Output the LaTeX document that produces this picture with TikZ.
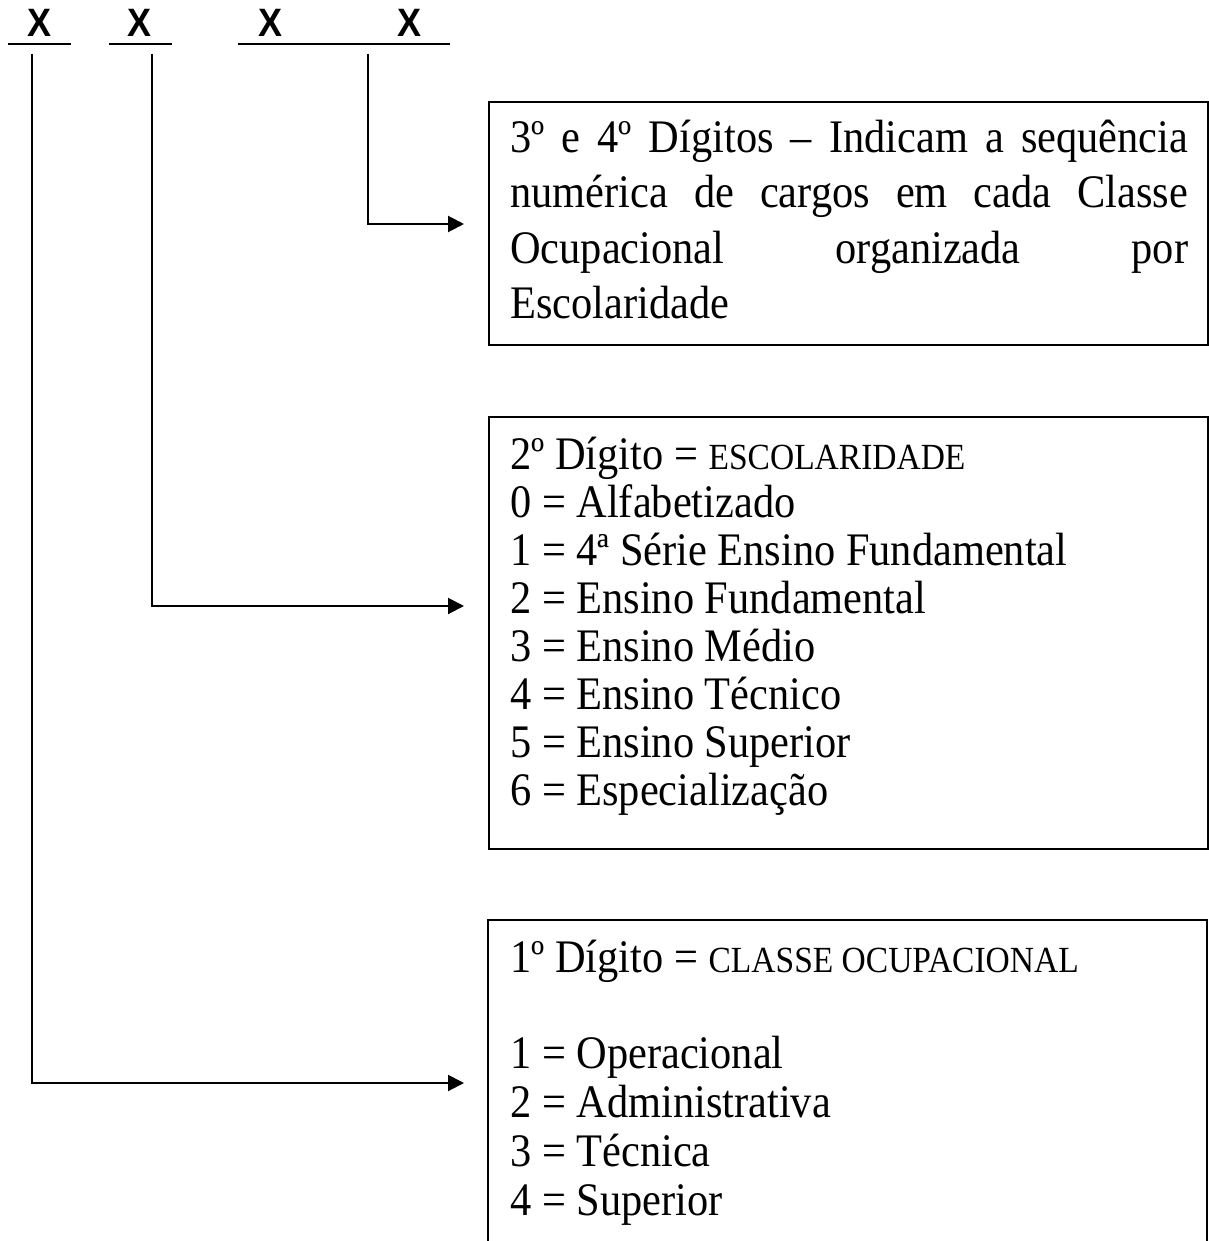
\documentclass[tikz,border=0pt]{standalone}
\usepackage{fontspec}
\setmainfont{Liberation Serif}
\newfontfamily\xfont{Liberation Sans}[BoldFont={Liberation Sans Bold}]
\usetikzlibrary{arrows.meta}
\newcommand\tall[1]{\scalebox{1}[1.1]{#1}}
\newcommand\smc[1]{{\fontsize{33.5}{40}\selectfont #1}}
\begin{document}
\begin{tikzpicture}[x=1pt,y=-1pt,
  conn/.style={line width=2pt},
  arr/.style={conn,-{Triangle[length=16pt,width=16pt]}},
  boxline/.style={line width=2pt},
  uline/.style={line width=2.5pt},
  txt/.style={anchor=base west,inner sep=0pt,font=\fontsize{42.4}{48}\selectfont},
  xl/.style={anchor=base,inner sep=0pt,font=\xfont\bfseries\fontsize{36}{36}\selectfont}]
\useasboundingbox (0,0) rectangle (1208,1241);
% code digits
\node[xl] (x1) at (40,37) {\tall{X}};
\node[xl] (x2) at (140,37) {\tall{X}};
\node[xl] (x3) at (271,37) {\tall{X}};
\node[xl] (x4) at (409,37) {\tall{X}};
\draw[uline] (8,44) -- (71,44);
\draw[uline] (109,44) -- (172,44);
\draw[uline] (238,44) -- (450,44);
% boxes
\node[draw,boxline,minimum width=719pt,minimum height=243pt,anchor=north west,inner sep=0pt] (b1) at (488,101) {};
\node[draw,boxline,minimum width=719pt,minimum height=432pt,anchor=north west,inner sep=0pt] (b2) at (488,416) {};
\coordinate (b3) at (488,920);
\draw[boxline] (488,1260) -- (b3) -- (1207,920) -- (1207,1260);
% connectors
\coordinate (s1) at (32,54);
\coordinate (s2) at (152,54);
\coordinate (s3) at (368,54);
\coordinate (t1) at (464,1083);
\coordinate (t2) at (464,606);
\coordinate (t3) at (464,224);
\draw[arr] (s1) |- (t1);
\draw[arr] (s2) |- (t2);
\draw[arr] (s3) |- (t3);
% box 1 text
\node[txt] (l11) at (510,153) {\tall{\makebox[678pt][s]{3º e 4º Dígitos – Indicam a sequência}}};
\node[txt] (l12) at (510,208) {\tall{\makebox[678pt][s]{numérica de cargos em cada Classe}}};
\node[txt] (l13) at (510,263) {\tall{\makebox[678pt][s]{Ocupacional organizada por}}};
\node[txt] (l14) at (510,318) {\tall{Escolaridade}};
% box 2 text
\node[txt] (l21) at (510,469) {\tall{2º Dígito = \smc{ESCOLARIDADE}}};
\node[txt] (l22) at (510,517) {\tall{0 = Alfabetizado}};
\node[txt] (l23) at (510,565) {\tall{1 = 4ª Série Ensino Fundamental}};
\node[txt] (l24) at (510,613) {\tall{2 = Ensino Fundamental}};
\node[txt] (l25) at (510,661) {\tall{3 = Ensino Médio}};
\node[txt] (l26) at (510,709) {\tall{4 = Ensino Técnico}};
\node[txt] (l27) at (510,757) {\tall{5 = Ensino Superior}};
\node[txt] (l28) at (510,805) {\tall{6 = Especialização}};
% box 3 text
\node[txt] (l31) at (510,972) {\tall{1º Dígito = \smc{CLASSE OCUPACIONAL}}};
\node[txt] (l32) at (510,1068) {\tall{1 = Operacional}};
\node[txt] (l33) at (510,1117) {\tall{2 = Administrativa}};
\node[txt] (l34) at (510,1166) {\tall{3 = Técnica}};
\node[txt] (l35) at (510,1215) {\tall{4 = Superior}};
\end{tikzpicture}
\end{document}
